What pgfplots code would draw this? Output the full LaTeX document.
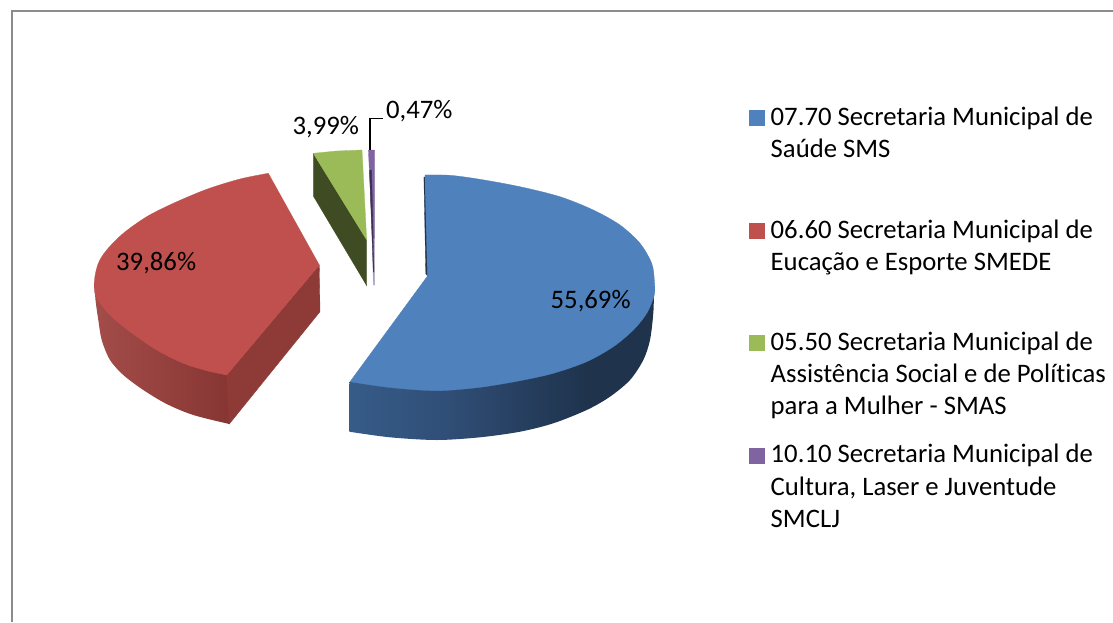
\documentclass[border=0pt]{standalone}
\usepackage{fontspec}
\setmainfont[Ligatures=NoCommon]{Carlito}
\usepackage{xcolor}
\usepackage{tikz}
\usepackage{pgfplots}
\pgfplotsset{compat=1.18}
\definecolor{blueTop}{HTML}{4F81BD}
\definecolor{redTop}{HTML}{C0504D}
\definecolor{greenTop}{HTML}{9BBB59}
\definecolor{purpleTop}{HTML}{8064A2}
\definecolor{purplePale}{HTML}{A79BBF}
\definecolor{blueCut}{HTML}{1F344D}
\definecolor{redCut}{HTML}{8E3A37}
\definecolor{greenCut}{HTML}{3F4B22}
\definecolor{purpleCut}{HTML}{3D3050}
\definecolor{frameGrey}{HTML}{8C8C8C}
\pgfdeclarehorizontalshading{blueSide}{100bp}{
  rgb(0bp)=(0.21,0.36,0.53); rgb(25bp)=(0.21,0.36,0.53); rgb(40bp)=(0.19,0.31,0.47);
  rgb(64bp)=(0.12,0.20,0.30); rgb(100bp)=(0.12,0.20,0.30)}
\pgfdeclarehorizontalshading{redSide}{100bp}{
  rgb(0bp)=(0.64,0.30,0.29); rgb(25bp)=(0.64,0.30,0.29); rgb(75bp)=(0.53,0.21,0.20); rgb(100bp)=(0.53,0.21,0.20)}
% one polygon of the pie, in picture pixels
\newcommand{\face}[2]{\addplot[fill=#1,draw=#1,line width=.3pt] coordinates {#2} -- cycle;}
\newcommand{\lab}[3]{\node[anchor=base west,inner sep=0pt,font=\fontsize{26.7}{30}\selectfont] at (axis cs:#1,#2) {#3};}

\begin{document}
\begin{tikzpicture}
\begin{axis}[
  width=1113pt,height=622pt,scale only axis,
  xmin=0,xmax=1113,ymin=0,ymax=622,y dir=reverse,
  axis lines=none,
]
\path (axis cs:0,0) rectangle (axis cs:1113,622);
\addplot[draw=frameGrey,line width=2pt] coordinates {(11.5,622) (11.5,11) (1113,11)};

% blue slice, 55.69
\face{blueCut}{(423.9,177) (425.2,177) (428,276) (425.8,274)}
\addplot[smooth,draw=none,shading=blueSide] coordinates {(349.3,431.7) (390,437.3) (436.7,440) (480,437.3) (520,431.7) (553.3,423.3) (586.7,410) (610,396.7) (630,380) (643.3,360) (650,340) (653.3,313) (654,290)} -- (axis cs:440,340) -- (axis cs:349.5,382) -- cycle;
\addplot[smooth,fill=blueTop,draw=blueTop,line width=.3pt] coordinates {(425,175) (450,175.3) (480,179.3) (520,186.7) (560,196.7) (593.3,210) (620,225) (640,243.3) (651.7,263.3) (654.3,280) (654.3,295) (646.7,313.3) (633.3,330) (613.3,346.7) (586.7,361.7) (553.3,373.3) (520,380.7) (480,387.3) (436.7,390.7) (390,387.5) (350,381.7)} -- (axis cs:427.5,276) -- cycle;

% red slice, 39.86
\addplot[smooth,draw=none,shading=redSide] coordinates {(94.5,282) (95.5,300) (98.3,320) (101.7,340) (110,360) (123.3,375) (143.3,390) (166.7,404) (193.3,415) (229.3,424)} -- (axis cs:229,340) -- cycle;
\face{redCut}{(226.7,375) (319.3,265) (320,311.7) (229.3,424)}
\addplot[smooth,fill=redTop,draw=redTop,line width=.3pt] coordinates {(268.3,173.3) (240,179) (206.7,189.3) (173.3,203.3) (146.7,216.7) (123.3,233.3) (106.7,250) (98.3,263.3) (94.5,280) (96,296.7) (110,315) (130,331.7) (156.7,350) (183.3,363.3) (206.7,370.7) (226.7,375)} -- (axis cs:319.3,265) -- cycle;

% green slice, 3.99
\face{greenCut}{(313.3,153.3) (366.7,240) (366.7,285.7) (313.3,196)}
\face{greenTop}{(313.3,153.3) (336.7,151) (362,150) (366.7,240)}

% purple slice, 0.47
\face{purplePale}{(372.5,238) (374.7,238) (374.7,285) (373.3,285)}
\face{purpleTop}{(368.4,150) (374.7,150) (374.7,238) (372.5,238)}
\face{purpleCut}{(369.5,170) (371.5,170) (374,272) (373.3,272)}

% leader of the 0,47% label
\addplot[draw=black,line width=1.6pt] coordinates {(370,149.5) (370,118.3) (383.3,118.3)};

\lab{550.5}{308}{55,69\%}
\lab{116}{270}{39,86\%}
\lab{292.5}{134.3}{3,99\%}
\lab{386}{118.3}{0,47\%}

% legend
\face{blueTop}{(749,110) (764.3,110) (764.3,125) (749,125)}
\face{redTop}{(749,223.3) (764.3,223.3) (764.3,238.3) (749,238.3)}
\face{greenTop}{(749,335) (764.3,335) (764.3,350) (749,350)}
\face{purpleTop}{(749,448) (764.3,448) (764.3,462.7) (749,462.7)}

\lab{770.5}{125.3}{07.70 Secretaria Municipal de}
\lab{770.5}{157.5}{Saúde SMS}
\lab{770.5}{238}{06.60 Secretaria Municipal de}
\lab{770.5}{270}{Eucação e Esporte SMEDE}
\lab{770.5}{350}{05.50 Secretaria Municipal de}
\lab{770.5}{382.3}{Assistência Social e de Políticas}
\lab{770.5}{414.7}{para a Mulher - SMAS}
\lab{770.5}{462.7}{10.10 Secretaria Municipal de}
\lab{770.5}{495}{Cultura, Laser e Juventude}
\lab{770.5}{527.5}{SMCLJ}
\end{axis}
\end{tikzpicture}
\end{document}
